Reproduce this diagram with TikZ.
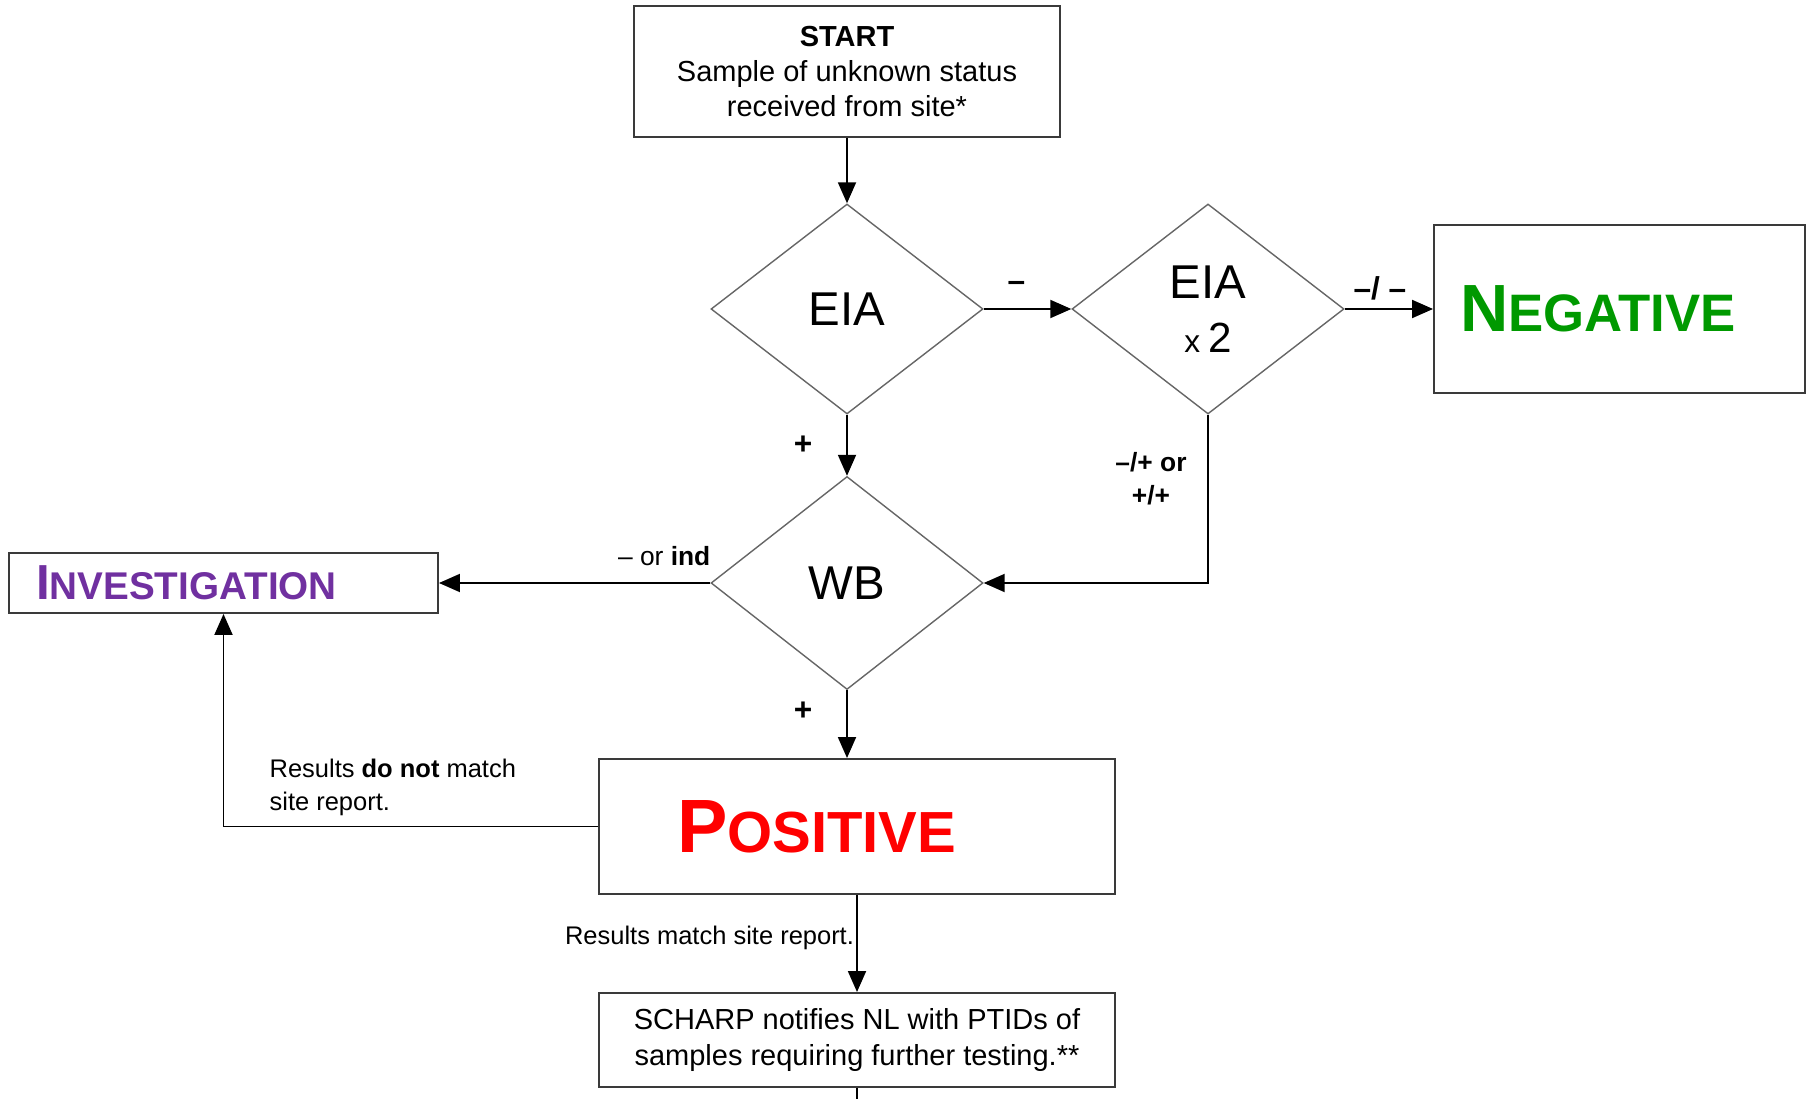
\documentclass[tikz,border=0pt]{standalone}
\usepackage{fontspec}
\setmainfont{Liberation Sans}
\usepackage{tikz}
\usetikzlibrary{arrows.meta,positioning,shapes.geometric}
\definecolor{fcgreen}{HTML}{009900}
\definecolor{fcred}{HTML}{FF0000}
\definecolor{fcpurple}{HTML}{7030A0}
\definecolor{fcgrey}{HTML}{3A3A3A}
\definecolor{fcgreyl}{HTML}{666666}
\newcommand{\fsz}[2]{\fontsize{#1}{#2}\selectfont}
\newcommand{\capsword}[4]{{\fsz{#3}{#3}#1}{\fsz{#4}{#4}#2}}
\tikzset{
  fcbox/.style        = {draw=fcgrey, rectangle, line width=1.1pt, align=center,
                         inner sep=0pt},
  startbox/.style     = {fcbox, minimum width=8.52cm, minimum height=2.62cm,
                         font=\fsz{16.5pt}{20pt}},
  outcome/.style      = {fcbox, align=left, font=\bfseries},
  decision/.style     = {diamond, draw=fcgreyl, line width=0.8pt, inner sep=0pt,
                         minimum width=5.44cm, minimum height=4.2cm, align=center,
                         font=\fsz{27pt}{31pt}},
  %
  flow/.style         = {-{Triangle[length=4.2mm,width=3.6mm]}, draw=black,
                         line width=1.1pt},
  plain/.style        = {draw=black, line width=1.1pt},
  %
  lbl/.style          = {font=\bfseries\fsz{15pt}{19pt}, inner sep=1pt,
                         align=center, midway},
  sign/.style         = {lbl, font=\bfseries\fsz{18pt}{20pt}},
  note/.style         = {font=\fsz{14.5pt}{19pt}, inner sep=1pt, align=left},
}
\begin{document}
\begin{tikzpicture}

  \useasboundingbox (0,0) rectangle (36.12,-21.98);

  % ---------- start and tests --------------------------------------------
  \node[startbox] (start) at (16.94,-1.43)
    {\textbf{START}\\ Sample of unknown status\\ received from site*};
  \node[decision] (eia)  at (16.94,-6.18) {EIA};
  \node[decision] (eia2) at (24.16,-6.18)
    {EIA\\ {\fsz{18pt}{18pt}x}\,{\fsz{24pt}{24pt}2}};
  \node[decision, minimum height=4.26cm] (wb) at (16.94,-11.66) {WB};

  % ---------- outcomes ---------------------------------------------------
  \node[outcome, text=fcgreen, minimum height=3.36cm, text width=6.38cm,
        inner xsep=0.52cm] (neg) at (32.39,-6.18)
    {\capsword{N}{EGATIVE}{38pt}{30pt}};
  \node[outcome, text=fcpurple, minimum height=1.2cm, text width=7.5cm,
        inner xsep=0.54cm] (inv) at (4.47,-11.66)
    {\raisebox{-0.1cm}{\capsword{I}{NVESTIGATION}{28pt}{22pt}}};
  \node[outcome, text=fcred, minimum height=2.7cm, text width=7.2cm,
        inner xsep=1.56cm] (pos) at (17.14,-16.53)
    {\capsword{P}{OSITIVE}{43pt}{33pt}};
  \node[startbox, minimum width=10.32cm, minimum height=1.88cm] (scharp)
    at (17.14,-20.8)
    {SCHARP notifies NL with PTIDs of\\ samples requiring further testing.**};
  \coordinate[below=0.24cm of scharp.south] (tail);

  % ---------- connectors -------------------------------------------------
  \draw[flow] (start.south) -- (eia.north);
  \draw[flow] (eia.east) -- node[sign, xshift=-0.22cm, yshift=0.45cm] {--} (eia2.west);
  \draw[flow] (eia2.east) -- node[sign, xshift=-0.18cm, yshift=0.42cm] {--/ --} (neg.west);
  \draw[flow] (eia.south) -- node[sign, xshift=-0.88cm] {+} (wb.north);
  \draw[flow] (eia2.south) |- node[lbl, pos=0.19, xshift=-1.14cm]
      {--/+ or\\ +/+} (wb.east);
  \draw[flow] (wb.west) -- node[lbl, pos=0.17, yshift=0.54cm]
      {\mdseries -- or \textbf{ind}} (inv.east);
  \draw[flow] (wb.south) -- node[sign, xshift=-0.88cm, yshift=0.26cm] {+}
      (wb.south |- pos.north);
  \draw[flow] (pos.west) -| node[note, pos=0.274, yshift=0.78cm]
      {Results \textbf{do not} match\\ site report.} (inv.south);
  \draw[flow] (pos.south) -- node[note, midway, xshift=-2.95cm, yshift=0.11cm]
      {Results match site report.} (scharp.north);
  \draw[plain] (scharp.south) -- (tail);

\end{tikzpicture}
\end{document}
